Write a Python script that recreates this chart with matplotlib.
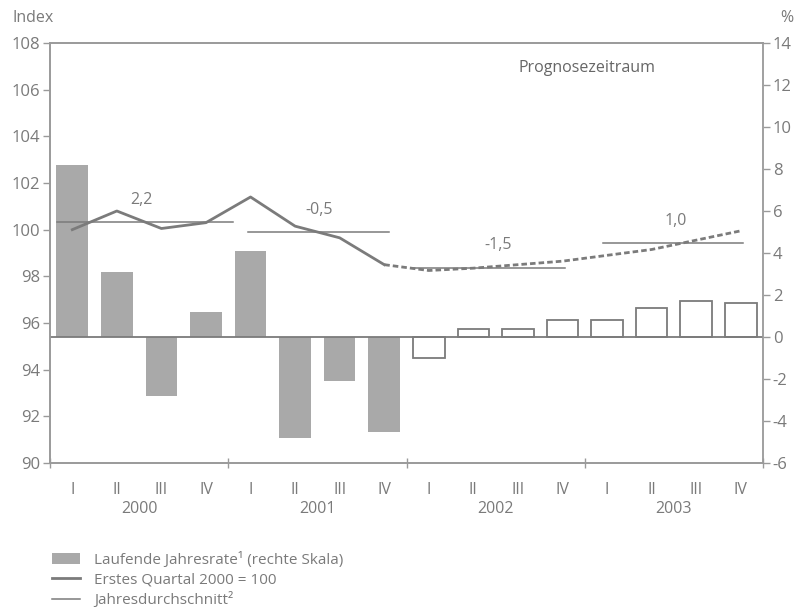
#!/usr/bin/env python3
"""Index (left) and running annual rate (right) by quarter, 2000-2003."""
import matplotlib
matplotlib.use("Agg")
import matplotlib.pyplot as plt
from matplotlib.lines import Line2D
from matplotlib.patches import Patch
from matplotlib.transforms import blended_transform_factory

plt.rcParams["font.family"] = ["Open Sans", "DejaVu Sans"]
plt.rcParams["axes.unicode_minus"] = False

YEARS = ["2000", "2001", "2002", "2003"]
QUARTERS = ["I", "II", "III", "IV"]

# running annual rate, % (right scale); 2002-2003 are forecast (hollow bars)
RATE = [8.2, 3.1, -2.8, 1.2, 4.1, -4.8, -2.1, -4.5,
        -1.0, 0.4, 0.4, 0.8, 0.8, 1.4, 1.7, 1.6]
N_ACTUAL = 8

# index, first quarter 2000 = 100
INDEX_ACTUAL = [100.0, 100.8, 100.05, 100.3, 101.4, 100.15, 99.65, 98.5]
INDEX_FORECAST = [98.5, 98.25, 98.35, 98.5, 98.65, 98.9, 99.15, 99.55, 99.95]

# annual averages of the index and their growth labels
AVG = [100.31, 99.89, 98.37, 99.41]
AVG_LABELS = ["2,2", "-0,5", "-1,5", "1,0"]

GREY_TXT = "#7a7a7a"
GREY_LINE = "#7b7b7b"
GREY_BAR = "#a9a9a9"
GREY_AX = "#9a9a9a"

fig = plt.figure(figsize=(8.0, 6.14), dpi=100)
ax = fig.add_axes([0.0625, 0.2459, 0.8913, 0.6841])
ax2 = ax.twinx()
ax.set_zorder(ax2.get_zorder() + 1)
ax.patch.set_visible(False)

xs = list(range(len(RATE)))

# bars on the right scale
for i, v in enumerate(RATE):
    if i < N_ACTUAL:
        ax2.bar(i, v, width=0.71, color=GREY_BAR, edgecolor="none", zorder=2)
    else:
        ax2.bar(i, v, width=0.71, color="white", edgecolor=GREY_LINE,
                linewidth=1.3, zorder=2)
ax2.axhline(0, color=GREY_LINE, lw=1.3, zorder=3)
ax2.set_ylim(-6, 14)
ax2.set_yticks(range(-6, 15, 2))
ax2.set_yticklabels([str(t) for t in range(-6, 15, 2)])

# index line, actual and forecast
ax.plot(xs[:N_ACTUAL], INDEX_ACTUAL, color=GREY_LINE, lw=2.0,
        solid_joinstyle="round", zorder=5)
ax.plot(xs[N_ACTUAL - 1:], INDEX_FORECAST, color=GREY_LINE, lw=2.0,
        dashes=(2.0, 1.1), zorder=5)

# annual averages
spans = [(-0.35, 3.6), (3.95, 7.1), (7.6, 11.05), (11.9, 15.05)]
for k, (avg, lab) in enumerate(zip(AVG, AVG_LABELS)):
    x0, x1 = spans[k]
    ax.plot([x0, x1], [avg, avg], color=GREY_LINE, lw=1.1, zorder=4)
    ax.text(4 * k + 1.55, avg + 0.97, lab, ha="center", va="center",
            fontsize=11.5, color=GREY_TXT)

ax.text(11.56, 106.93, "Prognosezeitraum", ha="center", va="center",
        fontsize=11.5, color="#666666")

ax.set_xlim(-0.5, 15.5)
ax.set_ylim(90, 108)
ax.set_yticks(range(90, 109, 2))

# quarter labels and year labels
ax.set_xticks(xs)
ax.set_xticklabels(QUARTERS * len(YEARS))
ax.set_xticks([-0.5, 3.5, 7.5, 11.5, 15.5], minor=True)
ax.tick_params(axis="x", which="major", length=0, pad=14,
               labelsize=11.5, labelcolor=GREY_TXT)
ax.tick_params(axis="x", which="minor", length=7, direction="inout",
               color=GREY_AX, width=1)
trans = blended_transform_factory(ax.transData, ax.transAxes)
for k, yr in enumerate(YEARS):
    ax.text(4 * k + 1.5, -0.11, yr, transform=trans, ha="center",
            va="center", fontsize=11.5, color=GREY_TXT)

ax.tick_params(axis="y", length=5, width=1, color=GREY_AX,
               labelsize=12, labelcolor=GREY_TXT, pad=2)
ax2.tick_params(axis="y", length=5, width=1, color=GREY_AX,
                labelsize=12, labelcolor=GREY_TXT, pad=2)
for a in (ax, ax2):
    for s in a.spines.values():
        s.set_color(GREY_AX)
        s.set_linewidth(1.2)
ax2.spines["right"].set_color("#c4c4c4")

fig.text(12 / 800, 1 - 18 / 614, "Index", ha="left", va="center",
         fontsize=11.5, color=GREY_TXT)
fig.text(793 / 800, 1 - 18 / 614, "%", ha="right", va="center",
         fontsize=11.5, color=GREY_TXT)

handles = [
    Patch(facecolor=GREY_BAR, edgecolor="none"),
    Line2D([], [], color=GREY_LINE, lw=2.0),
    Line2D([], [], color=GREY_LINE, lw=1.1),
]
labels = [
    "Laufende Jahresrate\u00b9 (rechte Skala)",
    "Erstes Quartal 2000 = 100",
    "Jahresdurchschnitt\u00b2",
]
leg = fig.legend(handles, labels, loc="upper left",
                 bbox_to_anchor=(46 / 800, 1 - 546 / 614), frameon=False,
                 fontsize=11, handlelength=1.85, handleheight=0.7,
                 handletextpad=0.9, labelspacing=0.3, borderaxespad=0)
for t in leg.get_texts():
    t.set_color(GREY_TXT)

fig.savefig("out.png", dpi=100)
